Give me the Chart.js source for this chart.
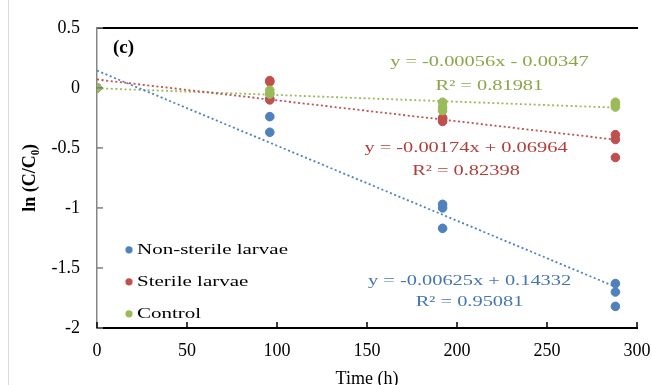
<!DOCTYPE html>
<html>
<head>
<meta charset="utf-8">
<script src="https://cdn.jsdelivr.net/npm/chart.js@4/dist/chart.umd.min.js"></script>
<style>
  html, body { margin: 0; padding: 0; background: #fff; }
  #grafico { display: block; }
</style>
</head>
<body>
<canvas id="grafico" width="652" height="385"></canvas>
<script>
// sampling times (h), three replicates per time
var sampleHours = [0, 0, 0, 96, 96, 96, 192, 192, 192, 288, 288, 288];

// ln(C/C0) per replicate
var nonSterileLn = [0, 0, 0, -0.09, -0.24, -0.37, -0.97, -1.00, -1.17, -1.63, -1.70, -1.82];
var sterileLn = [0, 0, 0, 0.06, 0.05, -0.10, -0.25, -0.26, -0.28, -0.39, -0.43, -0.58];
var controlLn = [0, 0, 0, -0.02, -0.05, -0.05, -0.12, -0.16, -0.19, -0.12, -0.14, -0.16];

var seriesNames = ['Non-sterile larvae', 'Sterile larvae', 'Control'];

// linear fits: y = slope * x + intercept
var trendSlopes = [-0.00625, -0.00174, -0.00056];
var trendIntercepts = [0.14332, 0.06964, -0.00347];
var trendR2 = ['0.95081', '0.82398', '0.81981'];

var xTicks = [0, 50, 100, 150, 200, 250, 300];
var yTicks = [0.5, 0, -0.5, -1, -1.5, -2];

var markerColors = ['#4F81BD', '#C0504D', '#9BBB59'];
var textColors = ['#4575B0', '#B03D3A', '#88A547'];
var FONT = "'Liberation Serif', 'Times New Roman', serif";

Chart.defaults.font.family = FONT;
Chart.defaults.color = '#000';

function pointsOf(values) {
	return values.map(function(v, i) {
		return { x: sampleHours[i], y: v };
	});
}

function trendPoints(i) {
	var first = sampleHours[0];
	var last = sampleHours[sampleHours.length - 1];
	return [first, last].map(function(h) {
		return { x: h, y: trendSlopes[i] * h + trendIntercepts[i] };
	});
}

function equationText(i) {
	var b = trendIntercepts[i];
	return 'y = ' + trendSlopes[i].toFixed(5) + 'x ' + (b < 0 ? '- ' : '+ ') + Math.abs(b).toFixed(5);
}

// text drawn a little wider than the font's own proportions
function wideText(ctx, text, x, y, k) {
	ctx.save();
	ctx.translate(x, y);
	ctx.scale(k, 1);
	ctx.fillText(text, 0, 0);
	ctx.restore();
}

var valores = [nonSterileLn, sterileLn, controlLn];
var datasets = [];

valores.forEach(function(serie, i) {
	datasets.push({
		label: seriesNames[i] + ' fit',
		data: trendPoints(i),
		showLine: true,
		borderColor: markerColors[i],
		borderWidth: 1.8,
		borderDash: [2, 2.6],
		pointRadius: 0,
		order: 10 + i
	});
});

valores.forEach(function(serie, i) {
	datasets.push({
		label: seriesNames[i],
		data: pointsOf(serie),
		showLine: false,
		backgroundColor: markerColors[i],
		borderColor: markerColors[i],
		pointStyle: 'circle',
		pointRadius: 4.3,
		pointBorderWidth: 1,
		order: 3 - i
	});
});

// equation labels, anchored in data coordinates
var labelAnchors = [
	{ x: 207, y1: -1.605, y2: -1.785 },
	{ x: 205, y1: -0.50, y2: -0.69 },
	{ x: 218, y1: 0.211, y2: 0.015 }
];

var decoracao = {
	id: 'decoracao',
	beforeDraw: function(chart) {
		var ctx = chart.ctx;
		ctx.save();
		ctx.fillStyle = '#fff';
		ctx.fillRect(0, 0, chart.width, chart.height);
		ctx.strokeStyle = '#d9d9d9';
		ctx.lineWidth = 1;
		ctx.beginPath();
		ctx.moveTo(8.5, 0);
		ctx.lineTo(8.5, chart.height);
		ctx.stroke();
		ctx.restore();
	},
	afterDraw: function(chart) {
		var ctx = chart.ctx;
		var area = chart.chartArea;
		var sx = chart.scales.x;
		var sy = chart.scales.y;
		ctx.save();

		// inward tick marks
		ctx.lineWidth = 1.5;
		ctx.strokeStyle = '#7f7f7f';
		yTicks.forEach(function(v) {
			var py = sy.getPixelForValue(v);
			ctx.beginPath();
			ctx.moveTo(area.left, py);
			ctx.lineTo(area.left + 6, py);
			ctx.stroke();
		});
		ctx.strokeStyle = '#000';
		xTicks.forEach(function(v) {
			var px = sx.getPixelForValue(v);
			ctx.beginPath();
			ctx.moveTo(px, area.bottom);
			ctx.lineTo(px, area.bottom - 6);
			ctx.stroke();
		});

		// panel letter
		ctx.fillStyle = '#000';
		ctx.font = 'bold 19px ' + FONT;
		ctx.textAlign = 'left';
		ctx.textBaseline = 'middle';
		ctx.fillText('(c)', area.left + 16, area.top + 20);

		// fit equations
		ctx.font = '15px ' + FONT;
		ctx.textAlign = 'center';
		labelAnchors.forEach(function(a, i) {
			var px = sx.getPixelForValue(a.x);
			ctx.fillStyle = textColors[i];
			wideText(ctx, equationText(i), px, sy.getPixelForValue(a.y1), 1.36);
			wideText(ctx, 'R\u00B2 = ' + trendR2[i], px, sy.getPixelForValue(a.y2), 1.36);
		});

		// legend
		ctx.font = '15px ' + FONT;
		ctx.textAlign = 'left';
		seriesNames.forEach(function(nome, i) {
			var py = area.top + 222 + i * 32;
			ctx.fillStyle = markerColors[i];
			ctx.beginPath();
			ctx.arc(area.left + 32, py, 3.6, 0, Math.PI * 2);
			ctx.fill();
			ctx.fillStyle = '#000';
			wideText(ctx, nome, area.left + 40, py, 1.4);
		});

		ctx.restore();
	}
};

var grafico = new Chart(document.getElementById('grafico').getContext('2d'), {
	type: 'scatter',
	data: { datasets: datasets },
	plugins: [decoracao],
	options: {
		responsive: false,
		animation: false,
		devicePixelRatio: 1,
		layout: { padding: { left: 0, right: 15, top: 23, bottom: 0 } },
		plugins: {
			legend: { display: false },
			tooltip: { enabled: false }
		},
		scales: {
			x: {
				type: 'linear',
				min: 0,
				max: 300,
				afterBuildTicks: function(scale) {
					scale.ticks = xTicks.map(function(v) { return { value: v }; });
				},
				afterFit: function(scale) {
					scale.height = 57;
					scale.paddingLeft = 0;
					scale.paddingRight = 0;
				},
				grid: { display: false, drawTicks: false },
				border: { color: '#000', width: 2 },
				ticks: { font: { size: 18 }, padding: 12, color: '#000' },
				title: {
					display: true,
					text: 'Time (h)',
					font: { size: 18, lineHeight: 1 },
					padding: { top: 0, bottom: -3 }
				}
			},
			x2: {
				type: 'linear',
				position: 'top',
				min: 0,
				max: 300,
				afterFit: function(scale) {
					scale.height = 0;
					scale.paddingLeft = 0;
					scale.paddingRight = 0;
				},
				grid: { display: false, drawTicks: false },
				border: { color: '#000', width: 2 },
				ticks: { display: false }
			},
			y: {
				type: 'linear',
				min: -2,
				max: 0.5,
				afterBuildTicks: function(scale) {
					scale.ticks = yTicks.map(function(v) { return { value: v }; });
				},
				afterFit: function(scale) { scale.width = 97; },
				grid: { display: false, drawTicks: false },
				border: { color: '#868686', width: 1.5 },
				ticks: {
					font: { size: 18 },
					padding: 17,
					color: '#000',
					callback: function(v) { return String(v); }
				},
				title: {
					display: true,
					text: 'ln (C/C\u2080)',
					font: { size: 18, weight: 'bold', lineHeight: 1 },
					padding: { top: 21, bottom: 0 }
				}
			}
		}
	}
});
</script>
</body>
</html>
